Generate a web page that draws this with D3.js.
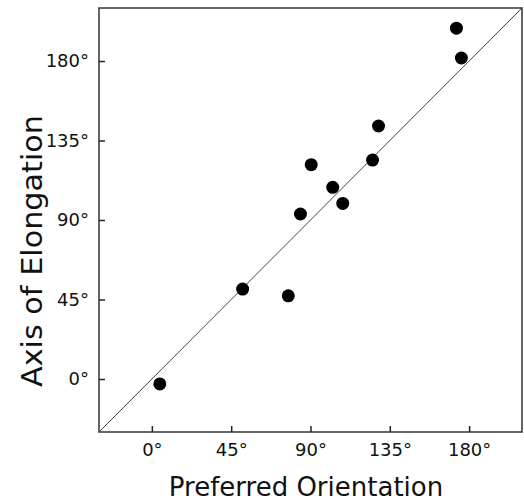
<!DOCTYPE html>
<html>
<head>
<meta charset="utf-8">
<script src="https://cdn.jsdelivr.net/npm/d3@7"></script>
<style>
  body { margin: 0; background: #fff; }
  svg text { font-family: "DejaVu Sans", sans-serif; fill: #111; }
</style>
</head>
<body>
<div id="chart"></div>
<script>
// preferred orientation (deg) vs axis of elongation (deg)
let preferred  = [4.5, 51.5, 77.4, 84.3, 90.4, 102.6, 108.3, 125.2, 128.6, 172.8, 175.6];
let elongation = [-2.8, 50.9, 47.1, 93.4, 121.3, 108.5, 99.4, 123.9, 143.2, 198.6, 181.7];
let tickValues = [0, 45, 90, 135, 180];
let domain = [-30, 210];

let width = 524, height = 502;
let plotLeft = 99, plotRight = 522, plotTop = 8, plotBottom = 432;

let svg = d3.select("#chart").append("svg")
    .attr("width", width)
    .attr("height", height);

let x = d3.scaleLinear().domain(domain).range([plotLeft, plotRight]);
let y = d3.scaleLinear().domain(domain).range([plotBottom, plotTop]);

let points = preferred.map((p, i) => ({x: p, y: elongation[i]}));

// frame
svg.append("rect")
    .attr("x", plotLeft).attr("y", plotTop)
    .attr("width", plotRight - plotLeft).attr("height", plotBottom - plotTop)
    .attr("fill", "none")
    .attr("stroke", "#333")
    .attr("stroke-width", 1.5);

// unity line
svg.append("line")
    .attr("x1", x(domain[0])).attr("y1", y(domain[0]))
    .attr("x2", x(domain[1])).attr("y2", y(domain[1]))
    .attr("stroke", "#444")
    .attr("stroke-width", 1);

// axes with inward ticks
let xAxis = d3.axisBottom(x).tickValues(tickValues).tickSize(-6).tickPadding(11)
    .tickFormat(d => d + "°");
let yAxis = d3.axisLeft(y).tickValues(tickValues).tickSize(-6).tickPadding(10)
    .tickFormat(d => d + "°");

let gx = svg.append("g").attr("transform", `translate(0,${plotBottom})`).call(xAxis);
let gy = svg.append("g").attr("transform", `translate(${plotLeft},0)`).call(yAxis);

[gx, gy].forEach(g => {
    g.select(".domain").remove();
    g.selectAll(".tick line").attr("stroke", "#222").attr("stroke-width", 1.5);
    g.selectAll(".tick text").attr("font-size", 18).attr("fill", "#111")
        .style("font-family", "DejaVu Sans, sans-serif");
});

// points
svg.append("g").selectAll("circle")
    .data(points)
    .join("circle")
    .attr("cx", d => x(d.x))
    .attr("cy", d => y(d.y))
    .attr("r", 6.5)
    .attr("fill", "#000");

// titles
svg.append("text")
    .attr("x", 306)
    .attr("y", 496)
    .attr("text-anchor", "middle")
    .attr("font-size", 26)
    .text("Preferred Orientation");

svg.append("text")
    .attr("transform", `translate(42,251) rotate(-90)`)
    .attr("text-anchor", "middle")
    .attr("font-size", 29)
    .attr("textLength", 272)
    .attr("lengthAdjust", "spacingAndGlyphs")
    .text("Axis of Elongation");
</script>
</body>
</html>
